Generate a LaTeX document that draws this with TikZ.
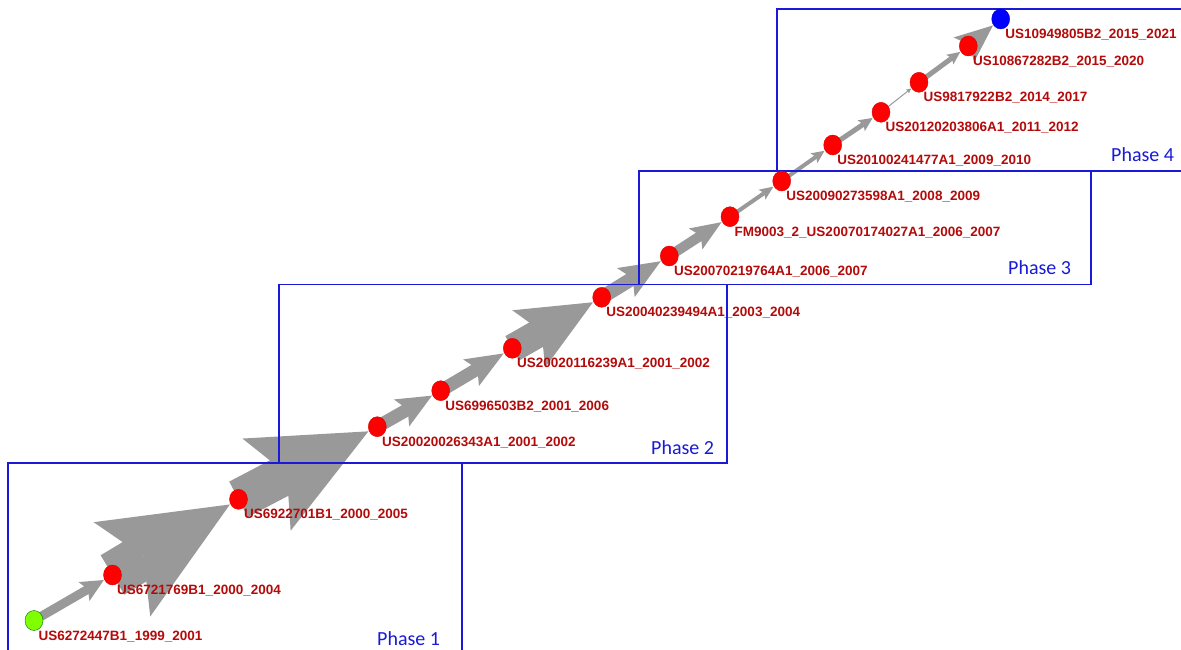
\documentclass[tikz,border=0pt]{standalone}
\usepackage{fontspec}
\setmainfont{Liberation Sans}
\newfontfamily\phasefont{Carlito}
\usetikzlibrary{calc,shapes.geometric}

\definecolor{flowgray}{RGB}{153,153,153}
\definecolor{labelred}{RGB}{180,10,10}
\definecolor{phaseblue}{RGB}{25,25,215}
\definecolor{nodegreen}{RGB}{128,255,0}

\pgfdeclarelayer{flows}
\pgfsetlayers{flows,main}

\tikzset{
  patent/.style={ellipse, minimum width=18pt, minimum height=20pt, inner sep=0pt,
                 fill=red, draw=red!85!black, line width=0.4pt},
  plabel/.style={anchor=base west, inner sep=0pt, text=labelred,
                 font=\fontsize{13.5}{15}\selectfont\bfseries},
  phasebox/.style={draw=phaseblue, line width=1.5pt},
  phasetag/.style={anchor=base west, inner sep=0pt, text=phaseblue,
                   font=\phasefont\fontsize{20}{24}\selectfont},
}

% weighted citation arrow: source, target, shaft width, head length, head half-width
\newcommand\flowarrow[5]{%
  \pgfmathsetmacro\fainset{0.8*#4}%
  \coordinate (fa-t) at ($(#2)!10pt!(#1)$);
  \coordinate (fa-b) at ($(fa-t)!#4pt!(#1)$);
  \coordinate (fa-i) at ($(fa-t)!\fainset pt!(#1)$);
  \draw[flowgray, line width=#3pt] (#1.center) -- (fa-i);
  \fill[flowgray] (fa-t) -- ($(fa-b)!#5pt!90:(fa-t)$) -- (fa-i)
                  -- ($(fa-b)!#5pt!-90:(fa-t)$) -- cycle;
}

\begin{document}
\begin{tikzpicture}[x=1pt, y=-1pt]
\useasboundingbox (0,0) rectangle (1181,650);

% phase frames
\draw[phasebox] (8,665) -- (8,463) -- (462,463) -- (462,665);
\draw[phasebox] (279,284.5) rectangle (727,463);
\draw[phasebox] (639,171) rectangle (1091,284.5);
\draw[phasebox] (1195,9) -- (777,9) -- (777,171) -- (1195,171);

\node[phasetag] (ph1) at (377,645) {Phase 1};
\node[phasetag] (ph2) at (651,454) {Phase 2};
\node[phasetag] (ph3) at (1008,274) {Phase 3};
\node[phasetag] (ph4) at (1111,161) {Phase 4};

% patents along the main path
\node[patent, fill=nodegreen, draw=green!45!black] (p0) at (34,620.5) {};
\node[patent] (p1)  at (112.5,575) {};
\node[patent] (p2)  at (238.5,499.3) {};
\node[patent] (p3)  at (377.3,426.7) {};
\node[patent] (p4)  at (440.7,390.7) {};
\node[patent] (p5)  at (512.3,348.3) {};
\node[patent] (p6)  at (601.7,297.3) {};
\node[patent] (p7)  at (669.3,256) {};
\node[patent] (p8)  at (730,216.7) {};
\node[patent] (p9)  at (781.7,181) {};
\node[patent] (p10) at (832.7,145) {};
\node[patent] (p11) at (881,112.3) {};
\node[patent] (p12) at (919,82.3) {};
\node[patent] (p13) at (968.3,46) {};
\node[patent, fill=blue, draw=blue!80!black] (p14) at (1000.7,19) {};

% citation flows
\begin{pgfonlayer}{flows}
\flowarrow{p0}{p1}{9}{23}{11}
\flowarrow{p1}{p2}{46}{126}{55}
\flowarrow{p2}{p3}{40}{115}{52}
\flowarrow{p3}{p4}{13}{35}{15.5}
\flowarrow{p4}{p5}{13}{38}{15.5}
\flowarrow{p5}{p6}{28}{74}{33}
\flowarrow{p6}{p7}{14}{41}{17}
\flowarrow{p7}{p8}{10}{31}{12.5}
\flowarrow{p8}{p9}{4}{14}{6}
\flowarrow{p9}{p10}{4}{13}{6}
\flowarrow{p10}{p11}{5}{14}{6.5}
\flowarrow{p11}{p12}{1}{5}{2.5}
\flowarrow{p12}{p13}{5}{13}{6}
\flowarrow{p13}{p14}{13}{38}{16}
\end{pgfonlayer}

% patent labels
\node[plabel] (l0)  at ($(p0)+(4.5,19.5)$)  {US6272447B1\_1999\_2001};
\node[plabel] (l1)  at ($(p1)+(4.5,19.5)$)  {US6721769B1\_2000\_2004};
\node[plabel] (l2)  at ($(p2)+(5.5,19.5)$)  {US6922701B1\_2000\_2005};
\node[plabel] (l3)  at ($(p3)+(4.5,19.5)$)  {US20020026343A1\_2001\_2002};
\node[plabel] (l4)  at ($(p4)+(4.5,19.5)$)  {US6996503B2\_2001\_2006};
\node[plabel] (l5)  at ($(p5)+(4.5,19.5)$)  {US20020116239A1\_2001\_2002};
\node[plabel] (l6)  at ($(p6)+(4.5,19.5)$)  {US20040239494A1\_2003\_2004};
\node[plabel] (l7)  at ($(p7)+(4.5,19.5)$)  {US20070219764A1\_2006\_2007};
\node[plabel] (l8)  at ($(p8)+(4.5,19.5)$)  {FM9003\_2\_US20070174027A1\_2006\_2007};
\node[plabel] (l9)  at ($(p9)+(4.5,19.5)$)  {US20090273598A1\_2008\_2009};
\node[plabel] (l10) at ($(p10)+(4.5,19.5)$) {US20100241477A1\_2009\_2010};
\node[plabel] (l11) at ($(p11)+(4.5,19.5)$) {US20120203806A1\_2011\_2012};
\node[plabel] (l12) at ($(p12)+(4.5,19.5)$) {US9817922B2\_2014\_2017};
\node[plabel] (l13) at ($(p13)+(4.5,19.5)$) {US10867282B2\_2015\_2020};
\node[plabel] (l14) at ($(p14)+(4.5,19.5)$) {US10949805B2\_2015\_2021};
\end{tikzpicture}
\end{document}
